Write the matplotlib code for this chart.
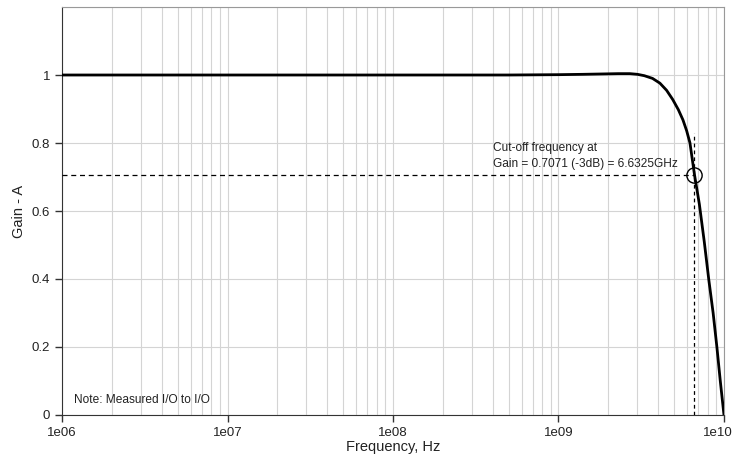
import matplotlib
matplotlib.use("Agg")
import matplotlib.pyplot as plt
import matplotlib.transforms as mtransforms
from matplotlib.ticker import FixedLocator, LogLocator, NullFormatter
import numpy as np

plt.rcParams['font.family'] = ['Liberation Sans', 'DejaVu Sans']

# gain response
freq = [1e6, 1e7, 1e8, 5e8, 1.0e9, 1.4e9, 1.8e9, 2.3e9, 2.7e9, 3.0e9, 3.3e9, 3.7e9,
        4.1e9, 4.5e9, 4.9e9, 5.3e9, 5.65e9, 5.95e9, 6.23e9, 6.6325e9, 7.1e9, 7.6e9,
        8.1e9, 8.6e9, 9.06e9, 9.5e9, 1e10]
gain = [1.0, 1.0, 1.0, 1.0, 1.001, 1.002, 1.003, 1.004, 1.004, 1.002, 0.998, 0.99,
        0.976, 0.955, 0.928, 0.898, 0.868, 0.836, 0.80, 0.7071, 0.62, 0.51,
        0.397, 0.30, 0.20, 0.10, 0.0]

f_cut = 6.6325e9
g_cut = 0.7071
x_ticks = [1e6, 1e7, 1e8, 1e9, 1e10]
x_labels = ['1e06', '1e07', '1e08', '1e09', '1e10']
y_ticks = [0, 0.2, 0.4, 0.6, 0.8, 1]
y_labels = ['0', '0.2', '0.4', '0.6', '0.8', '1']

fig = plt.figure(figsize=(7.35, 4.58), dpi=100)
ax = fig.add_axes([0.0844, 0.0939, 0.9006, 0.8908])

ax.set_xscale('log')
ax.set_xlim(1e6, 1e10)
ax.set_ylim(0, 1.2)

ax.xaxis.set_major_locator(FixedLocator(x_ticks))
ax.set_xticklabels(x_labels)
ax.xaxis.set_minor_locator(LogLocator(base=10, subs=np.arange(2, 10)))
ax.xaxis.set_minor_formatter(NullFormatter())
ax.set_yticks(y_ticks)
ax.set_yticklabels(y_labels)
ax.yaxis.set_minor_locator(FixedLocator([1.2]))

ax.grid(True, which='both', color='#d4d4d4', linewidth=0.8)
ax.tick_params(which='major', direction='out', length=5, width=1, color='#333333',
               labelsize=9.5, labelcolor='#222222')
ax.tick_params(which='minor', length=0)
for s in ['left', 'bottom']:
    ax.spines[s].set_color('#333333')
for s in ['top', 'right']:
    ax.spines[s].set_color('#999999')

# keep the last x label inside the figure
last = ax.get_xticklabels()[-1]
last.set_transform(last.get_transform() +
                   mtransforms.ScaledTranslation(-6 / 100, 0, fig.dpi_scale_trans))

ax.plot(freq, gain, color='black', linewidth=2, zorder=4)

ax.plot([1e6, f_cut], [g_cut, g_cut], color='black', linestyle='--', linewidth=0.9,
        dashes=(4, 3), zorder=3)
ax.plot([f_cut, f_cut], [0, 0.83], color='black', linestyle='--', linewidth=0.9,
        dashes=(3, 2.5), zorder=3)
ax.plot([f_cut], [g_cut], marker='o', markersize=11, markerfacecolor='none',
        markeredgecolor='black', markeredgewidth=1, zorder=5)

ax.text(4.0e8, 0.722, 'Cut-off frequency at\nGain = 0.7071 (-3dB) = 6.6325GHz',
        fontsize=8.6, color='#222222', ha='left', va='bottom', linespacing=1.4)
ax.text(1.18e6, 0.025, 'Note: Measured I/O to I/O', fontsize=8.6, color='#222222',
        ha='left', va='bottom')

ax.set_xlabel('Frequency, Hz', fontsize=10.5, color='#222222', labelpad=1)
ax.set_ylabel('Gain - A', fontsize=10.5, color='#222222', labelpad=4)

fig.savefig('out.png', dpi=100)
